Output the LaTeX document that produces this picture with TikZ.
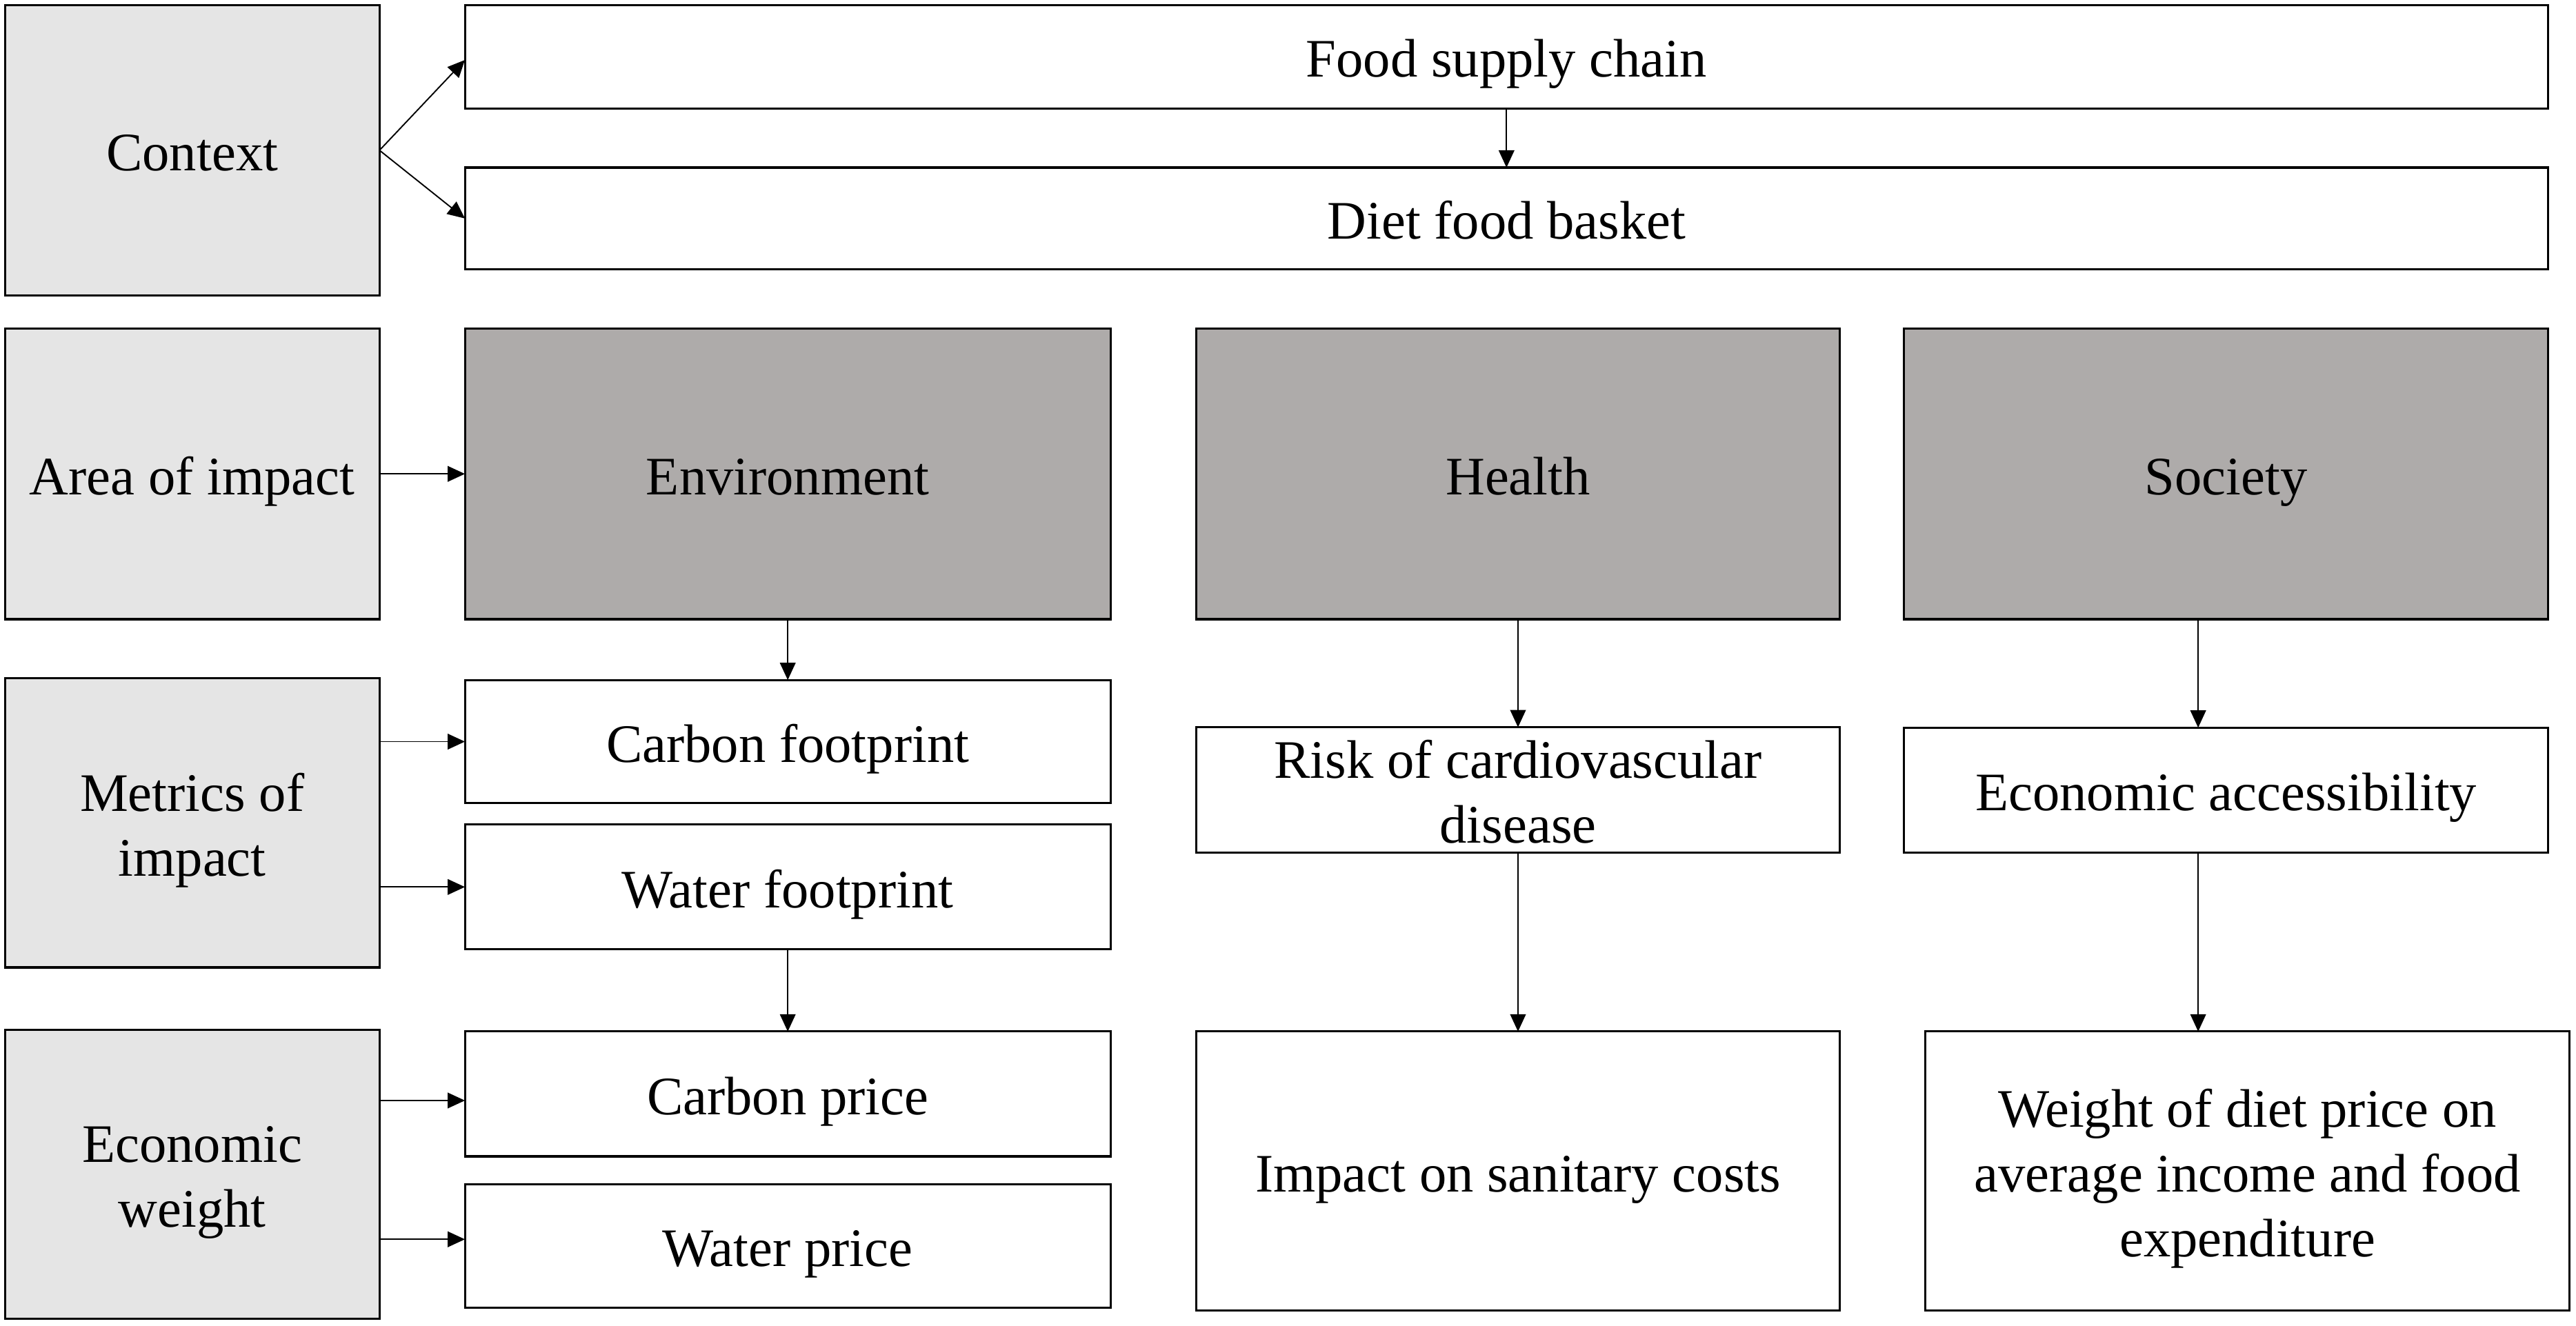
\documentclass[tikz,border=0pt]{standalone}
\usepackage{fontspec}
\setmainfont{Liberation Serif}
\usetikzlibrary{arrows.meta,calc}
\definecolor{lightbox}{RGB}{229,229,229}
\definecolor{darkbox}{RGB}{174,171,170}
\begin{document}
\begin{tikzpicture}[x=1pt,y=-1pt,
  box/.style={draw=black, line width=1.3pt, inner sep=0pt, outer sep=0pt, align=center,
    font=\fontsize{33}{39.5}\selectfont, fill=white, text height=31pt, text depth=6pt},
  twolines/.style={text height=70.5pt},
  threelines/.style={text height=110pt},
  headbox/.style={box, fill=lightbox},
  areabox/.style={box, fill=darkbox},
  arr/.style={line width=0.8pt, -{Triangle[length=10.5pt,width=9.5pt]}}]
\useasboundingbox (0,0) rectangle (1568,806.9);
% left column
\node[headbox, minimum width=228pt, minimum height=177pt] (ctx) at (117,91.5) {Context};
\node[headbox, minimum width=228pt, minimum height=177pt] (area) at (117,288.5) {Area of impact};
\node[headbox, twolines, minimum width=228pt, minimum height=176pt] (metrics) at (117,501) {Metrics of\\impact};
\node[headbox, twolines, minimum width=228pt, minimum height=176pt] (econ) at (117,715) {Economic\\weight};
% context boxes
\node[box, minimum width=1268pt, minimum height=63pt] (food) at (917,34.5) {Food supply chain};
\node[box, minimum width=1268pt, minimum height=62pt] (diet) at (917,133) {Diet food basket};
% areas
\node[areabox, minimum width=393pt, minimum height=177pt] (env) at (479.5,288.5) {Environment};
\node[areabox, minimum width=392pt, minimum height=177pt] (health) at (924,288.5) {Health};
\node[areabox, minimum width=392pt, minimum height=177pt] (soc) at (1355,288.5) {Society};
% environment column
\node[box, minimum width=393pt, minimum height=75pt] (cf) at (479.5,451.5) {Carbon footprint};
\node[box, minimum width=393pt, minimum height=76pt] (wf) at (479.5,540) {Water footprint};
\node[box, minimum width=393pt, minimum height=76pt] (cp) at (479.5,666) {Carbon price};
\node[box, minimum width=393pt, minimum height=75pt] (wp) at (479.5,758.5) {Water price};
% health column
\node[box, twolines, minimum width=392pt, minimum height=76pt] (risk) at (924,481) {Risk of cardiovascular\\disease};
\node[box, minimum width=392pt, minimum height=170pt] (isc) at (924,713) {Impact on sanitary costs};
% society column
\node[box, minimum width=392pt, minimum height=76pt] (ea) at (1355,481) {Economic accessibility};
\node[box, threelines, minimum width=392pt, minimum height=170pt] (wdp) at (1368,713) {Weight of diet price on\\average income and food\\expenditure};
\coordinate (sx) at (1338,0);
\coordinate (cpin) at ($(cp.west)+(0,4)$);
\coordinate (wpin) at ($(wp.west)+(0,-4)$);
% arrows
\draw[arr] (ctx.east) -- ($(food.west)+(0,2)$);
\draw[arr] (ctx.east) -- (diet.west);
\draw[arr] (food.south) -- (diet.north);
\draw[arr] (area.east) -- (env.west);
\draw[arr] (env.south) -- (cf.north);
\draw[arr] (metrics.east |- cf.west) -- (cf.west);
\draw[arr] (metrics.east |- wf.west) -- (wf.west);
\draw[arr] (wf.south) -- (cp.north);
\draw[arr] (econ.east |- cpin) -- (cpin);
\draw[arr] (econ.east |- wpin) -- (wpin);
\draw[arr] (health.south) -- (risk.north);
\draw[arr] (risk.south) -- (isc.north);
\draw[arr] (sx |- soc.south) -- (sx |- ea.north);
\draw[arr] (sx |- ea.south) -- (sx |- wdp.north);
\end{tikzpicture}
\end{document}
